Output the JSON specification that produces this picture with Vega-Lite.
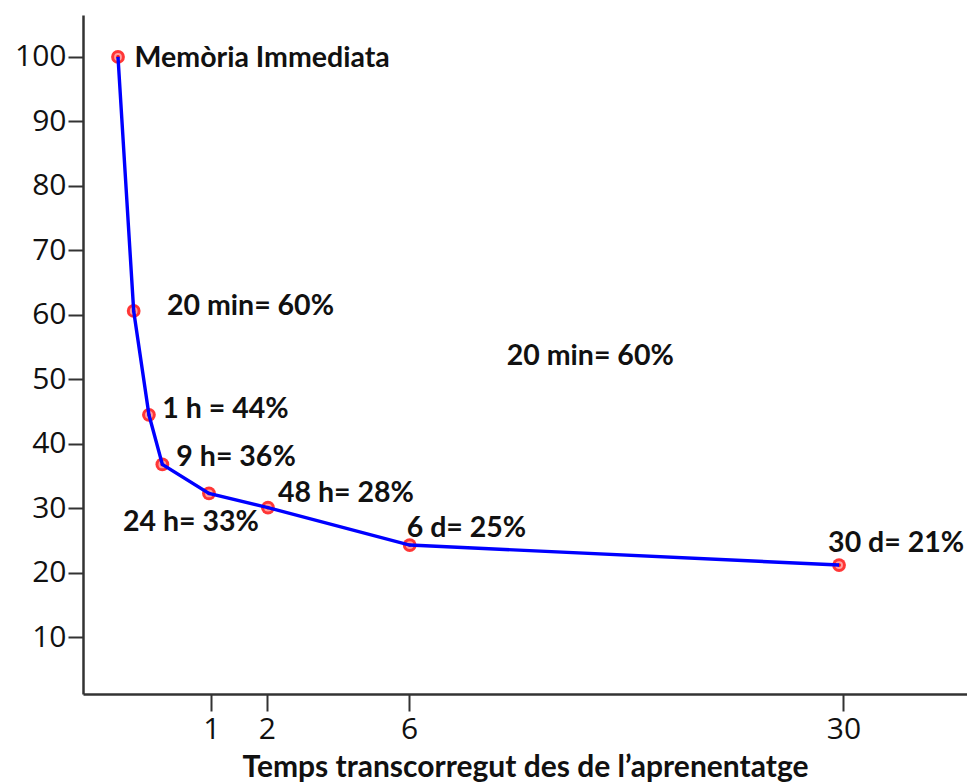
{
  "$schema": "https://vega.github.io/schema/vega-lite/v6.json",
  "width": 884,
  "height": 679,
  "autosize": "none",
  "padding": {"left": 83, "top": 15, "right": 0, "bottom": 88},
  "background": "white",
  "config": {"view": {"stroke": null}},
  "datasets": {
    "pts": [
      {"dies": 0.074, "pct": 100.0},
      {"dies": 0.159, "pct": 60.6},
      {"dies": 0.270, "pct": 44.5},
      {"dies": 0.390, "pct": 36.8},
      {"dies": 0.964, "pct": 32.3},
      {"dies": 2.025, "pct": 30.1},
      {"dies": 6.02, "pct": 24.3},
      {"dies": 29.67, "pct": 21.2}
    ],
    "labels": [
      {"dies": 0.165, "pct": 99.83, "text": "Memòria Immediata"},
      {"dies": 0.436, "pct": 61.37, "text": "20 min= 60%"},
      {"dies": 9.88, "pct": 53.62, "text": "20 min= 60%"},
      {"dies": 0.390, "pct": 45.40, "text": "1 h = 44%"},
      {"dies": 0.537, "pct": 37.95, "text": "9 h= 36%"},
      {"dies": 2.241, "pct": 32.37, "text": "48 h= 28%"},
      {"dies": 0.0978, "pct": 27.87, "text": "24 h= 33%"},
      {"dies": 5.914, "pct": 26.94, "text": "6 d= 25%"},
      {"dies": 28.86, "pct": 24.62, "text": "30 d= 21%"}
    ]
  },
  "encoding": {
    "x": {
      "field": "dies",
      "type": "quantitative",
      "scale": {"type": "pow", "exponent": 0.53, "domain": [-0.00124, 39.9], "nice": false, "zero": false},
      "axis": {
        "values": [1, 2, 6, 30],
        "title": "Temps transcorregut des de l’aprenentatge",
        "titleFont": "Lato",
        "titleFontWeight": "bold",
        "titleFontSize": 30,
        "titleColor": "#111",
        "titleBaseline": "alphabetic",
        "titleY": 82,
        "labelFont": "Open Sans",
        "labelFontSize": 30,
        "labelColor": "#111",
        "labelPadding": 3,
        "tickSize": 17,
        "tickWidth": 2,
        "tickColor": "#333",
        "domainColor": "#333",
        "domainWidth": 2.5,
        "grid": false
      }
    },
    "y": {
      "field": "pct",
      "type": "quantitative",
      "scale": {"domain": [1.2, 106.5], "nice": false, "zero": false},
      "axis": {
        "values": [10, 20, 30, 40, 50, 60, 70, 80, 90, 100],
        "title": null,
        "labelFont": "Open Sans",
        "labelFontSize": 30,
        "labelColor": "#111",
        "labelPadding": 2,
        "tickSize": 15,
        "tickWidth": 2,
        "tickColor": "#333",
        "domainColor": "#333",
        "domainWidth": 2.5,
        "grid": false
      }
    }
  },
  "layer": [
    {"data": {"name": "pts"}, "mark": {"type": "point", "shape": "circle", "filled": true, "size": 190, "color": "#ff2020", "opacity": 0.9}},
    {"data": {"name": "pts"}, "mark": {"type": "point", "shape": "circle", "filled": true, "size": 60, "color": "#ffa0a0", "opacity": 1}},
    {"data": {"name": "pts"}, "mark": {"type": "point", "shape": "circle", "filled": true, "size": 14, "color": "#ff1010", "opacity": 1}},
    {"data": {"name": "pts"}, "mark": {"type": "line", "color": "#0000ff", "strokeWidth": 3.4}},
    {"data": {"name": "labels"}, "mark": {"type": "text", "align": "left", "baseline": "middle", "font": "Lato", "fontWeight": "bold", "fontSize": 28.5, "color": "#111"}, "encoding": {"text": {"field": "text"}}}
  ]
}
